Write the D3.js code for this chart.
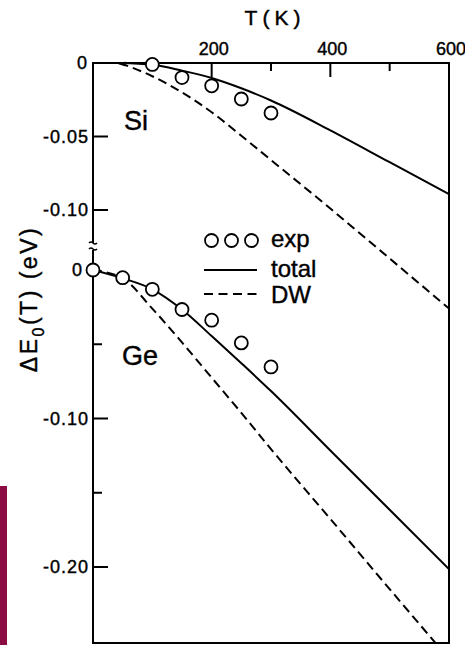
<!DOCTYPE html>
<html>
<head>
<meta charset="utf-8">
<script src="https://cdn.jsdelivr.net/npm/d3@7"></script>
<style>
  body { margin: 0; background: #fff; }
  svg { display: block; font-family: 'Liberation Sans', Arial, sans-serif; }
  text { stroke: #000; stroke-width: 0.4px; }
</style>
</head>
<body>
<div id="chart"></div>
<script>
// temperatures (K) and energy shifts (eV)
const siExpT = [100, 150, 200, 250, 300];
const siExp = [-0.001, -0.0099, -0.0155, -0.0245, -0.034];
const siCurveT = [45, 100, 150, 200, 250, 300, 400, 500, 600];
const siTotal = [0, -0.0012, -0.0052, -0.0102, -0.0172, -0.0255, -0.0458, -0.0675, -0.0892];
const siDW = [0, -0.009, -0.020, -0.0335, -0.0495, -0.066, -0.099, -0.133, -0.167];

const geExpT = [0, 50, 100, 150, 200, 250, 300];
const geExp = [0, -0.0052, -0.013, -0.0266, -0.0338, -0.0491, -0.0653];
const geCurveT = [0, 50, 100, 150, 200, 250, 300, 400, 500, 600];
const geTotal = [0, -0.0056, -0.013, -0.0266, -0.0445, -0.0628, -0.0815, -0.1215, -0.1615, -0.2014];
const geDW = [0, -0.0056, -0.026, -0.0488, -0.0725, -0.0962, -0.1206, -0.1676, -0.2149, -0.2618];

const xTicks = [100, 200, 300, 400, 500, 600];
const xLabels = [200, 400, 600];
const siTicks = [-0.05, -0.10];
const geMajor = [-0.10, -0.20];
const geMinor = [-0.05, -0.15];

const W = 465, H = 645;
const margin = { left: 93, right: 449, top: 63, bottom: 643 };
const breakY = 246;

const svg = d3.select('#chart').append('svg')
    .attr('width', W)
    .attr('height', H);

const x = d3.scaleLinear().domain([0, 600]).range([margin.left, margin.right]);
const ySi = d3.scaleLinear().domain([0, -0.10]).range([margin.top, 210]);
const yGe = d3.scaleLinear().domain([0, -0.20]).range([270, 567]);

// maroon strip at the left edge
svg.append('rect')
    .attr('x', 0).attr('y', 486)
    .attr('width', 7).attr('height', H - 486)
    .attr('fill', '#8c0d44');

svg.append('clipPath').attr('id', 'plotClip')
  .append('rect')
    .attr('x', margin.left).attr('y', margin.top)
    .attr('width', margin.right - margin.left).attr('height', margin.bottom - margin.top);

// frame
const frame = svg.append('g')
    .attr('stroke', '#000')
    .attr('stroke-width', 2)
    .attr('fill', 'none');
frame.append('path')
    .attr('d', `M${margin.left},${breakY - 3}V${margin.top}H${margin.right}V${margin.bottom}H${margin.left}V${breakY + 4}`);
// axis break mark
[breakY - 3, breakY + 3].forEach(yy => {
    frame.append('path')
        .attr('stroke-width', 1.5)
        .attr('d', `M${margin.left - 4},${yy}q2,-2 4,0t4,0`);
});

// top ticks
svg.append('g').selectAll('line')
    .data(xTicks)
  .join('line')
    .attr('x1', d => x(d)).attr('x2', d => x(d))
    .attr('y1', margin.top).attr('y2', d => margin.top + (d % 200 === 0 ? 14 : 8))
    .attr('stroke', '#000').attr('stroke-width', 2);

svg.append('g').selectAll('text')
    .data(xLabels)
  .join('text')
    .attr('x', d => x(d) + 2)
    .attr('y', 55)
    .attr('text-anchor', 'middle')
    .attr('font-size', 18)
    .text(d => d);

svg.append('text')
    .attr('x', 275).attr('y', 25)
    .attr('text-anchor', 'middle')
    .attr('font-size', 21)
    .attr('letter-spacing', 5)
    .text('T(K)');

// left ticks
const tickG = svg.append('g').attr('stroke', '#000').attr('stroke-width', 2);
siTicks.forEach(v => {
    tickG.append('line').attr('x1', margin.left).attr('x2', margin.left + 15)
        .attr('y1', ySi(v)).attr('y2', ySi(v));
});
geMajor.forEach(v => {
    tickG.append('line').attr('x1', margin.left).attr('x2', margin.left + 15)
        .attr('y1', yGe(v)).attr('y2', yGe(v));
});
geMinor.forEach(v => {
    tickG.append('line').attr('x1', margin.left).attr('x2', margin.left + 9)
        .attr('y1', yGe(v)).attr('y2', yGe(v));
});

const fmt = v => d3.format('.2f')(v).replace('−', '-');
const labelG = svg.append('g')
    .attr('font-size', 18)
    .attr('text-anchor', 'end');
labelG.append('text').attr('x', 87).attr('y', ySi(0) + 6).text('0');
siTicks.forEach(v => {
    labelG.append('text').attr('x', 89).attr('y', ySi(v) + 6)
        .attr('letter-spacing', 1).text(fmt(v));
});
labelG.append('text').attr('x', 82).attr('y', yGe(0) + 6).text('0');
geMajor.forEach(v => {
    labelG.append('text').attr('x', 89).attr('y', yGe(v) + 6)
        .attr('letter-spacing', 1).text(fmt(v));
});

// y axis title
const yTitle = svg.append('text')
    .attr('transform', 'translate(37,299) rotate(-90)')
    .attr('text-anchor', 'middle')
    .attr('font-size', 23)
    .attr('letter-spacing', 2.5);
yTitle.append('tspan').text('ΔE');
yTitle.append('tspan').attr('font-size', 16).attr('dy', 7).text('0');
yTitle.append('tspan').attr('dy', -7).text('(T) (eV)');

// curves
function drawCurve(ts, vs, y, dashed) {
    const line = d3.line()
        .x((d, i) => x(ts[i]))
        .y(d => y(d))
        .curve(d3.curveMonotoneX);
    svg.append('path')
        .datum(vs)
        .attr('clip-path', 'url(#plotClip)')
        .attr('d', line)
        .attr('fill', 'none')
        .attr('stroke', '#000')
        .attr('stroke-width', 2)
        .attr('stroke-dasharray', dashed ? '9,5' : null);
}
drawCurve(siCurveT, siTotal, ySi, false);
drawCurve(siCurveT, siDW, ySi, true);
drawCurve(geCurveT, geTotal, yGe, false);
drawCurve(geCurveT, geDW, yGe, true);

// small arrow head at the start of the Si curves
const ax = x(siCurveT[0]), ay = ySi(siTotal[0]);
svg.append('path')
    .attr('d', `M${ax - 2},${ay + 1}l8,-2.5l0,5z`)
    .attr('fill', '#000');

// experimental points
function drawPoints(ts, vs, y) {
    svg.append('g').selectAll('circle')
        .data(vs)
      .join('circle')
        .attr('cx', (d, i) => x(ts[i]))
        .attr('cy', d => y(d))
        .attr('r', 6.5)
        .attr('fill', '#fff')
        .attr('stroke', '#000')
        .attr('stroke-width', 1.8);
}
drawPoints(siExpT, siExp, ySi);
drawPoints(geExpT, geExp, yGe);

// panel labels
svg.append('text').attr('x', 124).attr('y', 130)
    .attr('font-size', 27).text('Si');
svg.append('text').attr('x', 122).attr('y', 365)
    .attr('font-size', 27).text('Ge');

// legend
const legend = svg.append('g');
[211.5, 231.5, 251.5].forEach(cx => {
    legend.append('circle')
        .attr('cx', cx).attr('cy', 240.5).attr('r', 6.5)
        .attr('fill', '#fff').attr('stroke', '#000').attr('stroke-width', 1.8);
});
legend.append('line').attr('x1', 204).attr('x2', 257).attr('y1', 270).attr('y2', 270)
    .attr('stroke', '#000').attr('stroke-width', 2);
legend.append('line').attr('x1', 204).attr('x2', 257).attr('y1', 294).attr('y2', 294)
    .attr('stroke', '#000').attr('stroke-width', 2).attr('stroke-dasharray', '9,5.5');
const legText = legend.append('g').attr('font-size', 24);
legText.append('text').attr('x', 271).attr('y', 247).text('exp');
legText.append('text').attr('x', 271).attr('y', 277).text('total');
legText.append('text').attr('x', 271).attr('y', 303).text('DW');
</script>
</body>
</html>
